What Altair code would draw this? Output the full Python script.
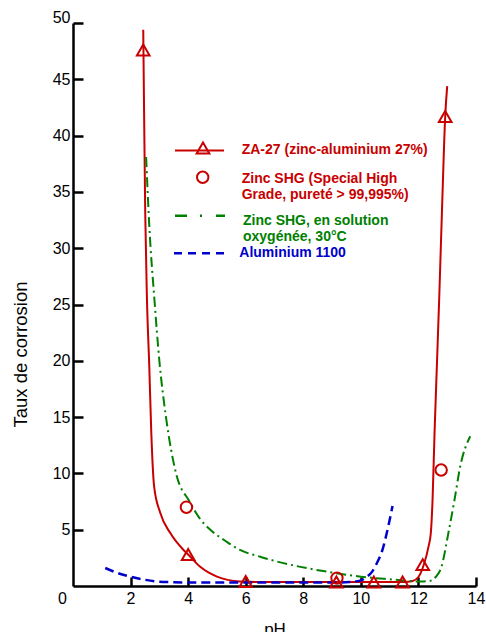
import altair as alt
import pandas as pd

# ---------------- data ----------------
za_line_ph = [2.44, 2.47, 2.51, 2.57, 2.65, 2.72, 2.82, 3.03, 3.38, 3.84, 4.0, 4.42, 5.0, 5.8,
              6.5, 7.0, 8.0, 9.0, 10.0, 11.0, 11.5, 11.8, 12.0, 12.2, 12.35, 12.43, 12.49,
              12.56, 12.64, 12.72, 12.83, 12.93, 13.0]
za_line_v = [49.4, 42.0, 33.0, 25.4, 19.5, 13.6, 8.8, 6.5, 4.7, 3.2, 2.8, 1.7, 0.83, 0.4,
             0.35, 0.35, 0.35, 0.35, 0.35, 0.35, 0.35, 0.45, 0.8, 2.0, 3.5, 4.7, 7.6,
             13.6, 19.5, 25.4, 34.3, 41.7, 44.4]

za_mark_ph = [2.44, 4.0, 6.0, 9.15, 10.45, 11.45, 12.15, 12.93]
za_mark_v = [47.6, 2.8, 0.4, 0.35, 0.35, 0.35, 1.9, 41.7]

shg_ph = [3.94, 9.17, 12.79]
shg_v = [7.0, 0.7, 10.3]

green_ph = [2.54, 2.65, 2.83, 3.0, 3.23, 3.58, 4.05, 4.4, 4.77, 5.3, 5.8, 6.5, 7.2, 7.9, 9.0,
            10.0, 11.0, 12.06, 12.4, 12.6, 12.8, 13.04, 13.25, 13.45, 13.8]
green_v = [38.1, 32.0, 25.4, 20.0, 15.0, 10.0, 7.5, 6.0, 5.0, 4.0, 3.2, 2.6, 2.1, 1.7, 1.2,
           0.83, 0.6, 0.4, 0.45, 0.8, 1.7, 4.7, 7.6, 10.6, 13.3]

blue_ph = [1.12, 1.5, 2.0, 2.5, 2.9, 3.5, 4.0, 5.0, 6.0, 7.0, 8.0, 9.0, 9.6, 10.0, 10.2, 10.4,
           10.55, 10.75, 10.9, 11.1]
blue_v = [1.6, 1.2, 0.83, 0.55, 0.4, 0.33, 0.3, 0.3, 0.3, 0.3, 0.3, 0.3, 0.35, 0.5, 0.8, 1.3,
          2.0, 3.2, 4.7, 7.1]

x_ticks = [0, 2, 4, 6, 8, 10, 12, 14]
y_ticks = [5, 10, 15, 20, 25, 30, 35, 40, 45, 50]

legend_za = "ZA-27 (zinc-aluminium 27%)"
legend_shg = ["Zinc SHG (Special High", "Grade, pureté > 99,995%)"]
legend_oxy = ["Zinc SHG, en solution", "oxygénée, 30°C"]
legend_al = "Aluminium 1100"

# ---------------- styling ----------------
RED = "#C80000"
GREEN = "#008000"
BLUE = "#0000CC"
FONT = "Liberation Sans"
W, H = 403, 563


def frame(xs, ys):
    return pd.DataFrame({"ph": xs, "v": ys})


xscale = alt.Scale(domain=[0, 14], nice=False, zero=False)
yscale = alt.Scale(domain=[0, 50], nice=False, zero=False)

label_x_axis = alt.Axis(
    values=x_ticks, ticks=False, tickSize=0, grid=False, domain=True,
    domainColor="black", domainWidth=2.5, labelFont=FONT, labelFontSize=16,
    labelColor="black", labelPadding=4, labelFlush=False, labelOverlap=False,
    labelOffset={"condition": {"test": "datum.value === 0", "value": -11}, "value": 0},
    title="pH", titleFont=FONT, titleFontSize=17, titleFontWeight="normal",
    titleColor="black", titleBaseline="alphabetic", titleY=48,
)
label_y_axis = alt.Axis(
    values=y_ticks, ticks=False, tickSize=0, grid=False, domain=True,
    domainColor="black", domainWidth=2.5, labelFont=FONT, labelFontSize=16,
    labelColor="black", labelPadding=3, labelFlush=False, labelOverlap=False,
    labelOffset={"condition": {"test": "datum.value === 50", "value": -6}, "value": 0},
    title="Taux de corrosion", titleFont=FONT, titleFontSize=18.5,
    titleFontWeight="normal", titleColor="black", titleAngle=270,
    titleAlign="center", titleBaseline="middle", titleX=-53, titleY=331,
)
tick_x_axis = alt.Axis(
    orient="top", offset=-H, values=x_ticks[1:], labels=False, domain=False,
    grid=False, ticks=True, tickSize=9, tickWidth=2.5, tickColor="black", title="",
)
tick_y_axis = alt.Axis(
    orient="right", offset=-W, values=y_ticks, labels=False, domain=False,
    grid=False, ticks=True, tickSize=10, tickWidth=2.5, tickColor="black", title="",
)

red_line = alt.Chart(frame(za_line_ph, za_line_v)).mark_line(
    color=RED, strokeWidth=2, interpolate="monotone"
).encode(
    x=alt.X("ph:Q", scale=xscale, axis=label_x_axis),
    y=alt.Y("v:Q", scale=yscale, axis=label_y_axis),
)

green_line = alt.Chart(frame(green_ph, green_v)).mark_line(
    color=GREEN, strokeWidth=2, strokeDash=[10, 4, 2, 4], interpolate="monotone"
).encode(
    x=alt.X("ph:Q", scale=xscale, axis=tick_x_axis),
    y=alt.Y("v:Q", scale=yscale, axis=tick_y_axis),
)

blue_line = alt.Chart(frame(blue_ph, blue_v)).mark_line(
    color=BLUE, strokeWidth=2.5, strokeDash=[9, 5], interpolate="monotone"
).encode(
    x=alt.X("ph:Q", scale=xscale, axis=None),
    y=alt.Y("v:Q", scale=yscale, axis=None),
)

tri = alt.Chart(frame(za_mark_ph, za_mark_v)).mark_point(
    shape="triangle-up", filled=False, color=RED, strokeWidth=2, size=160, opacity=1
).encode(
    x=alt.X("ph:Q", scale=xscale, axis=None),
    y=alt.Y("v:Q", scale=yscale, axis=None),
)

circ = alt.Chart(frame(shg_ph, shg_v)).mark_point(
    shape="circle", filled=False, color=RED, strokeWidth=2, size=130, opacity=1
).encode(
    x=alt.X("ph:Q", scale=xscale, axis=None),
    y=alt.Y("v:Q", scale=yscale, axis=None),
)

# ---------------- in-plot legend ----------------
one = pd.DataFrame({"k": [0]})

leg_rule1 = alt.Chart(one).mark_rule(color=RED, strokeWidth=2).encode(
    x=alt.value(102), x2=alt.value(151), y=alt.value(127.5))
leg_tri = alt.Chart(one).mark_point(
    shape="triangle-up", filled=False, color=RED, strokeWidth=2, size=160, opacity=1
).encode(x=alt.value(130), y=alt.value(125))
leg_text1 = alt.Chart(one).mark_text(
    text=legend_za, align="left", baseline="middle", font=FONT, fontSize=14,
    fontWeight="bold", color=RED
).encode(x=alt.value(168.7), y=alt.value(126.5))

leg_circ = alt.Chart(one).mark_point(
    shape="circle", filled=False, color=RED, strokeWidth=2, size=130, opacity=1
).encode(x=alt.value(129.7), y=alt.value(154.3))
leg_text2 = alt.Chart(one).mark_text(
    text=legend_shg, align="left", baseline="middle", font=FONT, fontSize=14,
    fontWeight="bold", color=RED, lineHeight=16
).encode(x=alt.value(168.7), y=alt.value(155.7))

leg_rule3 = alt.Chart(one).mark_rule(
    color=GREEN, strokeWidth=2.5, strokeDash=[12, 13, 2, 14]
).encode(x=alt.value(102), x2=alt.value(152), y=alt.value(192.7))
leg_text3 = alt.Chart(one).mark_text(
    text=legend_oxy, align="left", baseline="middle", font=FONT, fontSize=14,
    fontWeight="bold", color=GREEN, lineHeight=16
).encode(x=alt.value(170), y=alt.value(198.2))

leg_rule4 = alt.Chart(one).mark_rule(
    color=BLUE, strokeWidth=2.5, strokeDash=[8, 6]
).encode(x=alt.value(101), x2=alt.value(152), y=alt.value(230.3))
leg_text4 = alt.Chart(one).mark_text(
    text=legend_al, align="left", baseline="middle", font=FONT, fontSize=14,
    fontWeight="bold", color=BLUE
).encode(x=alt.value(166.3), y=alt.value(230.3))

chart = alt.layer(
    red_line, green_line, blue_line, tri, circ,
    leg_rule1, leg_tri, leg_text1, leg_circ, leg_text2,
    leg_rule3, leg_text3, leg_rule4, leg_text4,
).resolve_axis(
    x="independent", y="independent"
).properties(
    width=W, height=H,
    padding={"left": 73, "top": 23, "right": 10, "bottom": 46},
    autosize=alt.AutoSizeParams(type="none"),
    background="white",
).configure_view(stroke=None)

chart.save("out.html", embed_options={"renderer": "svg", "actions": False})
